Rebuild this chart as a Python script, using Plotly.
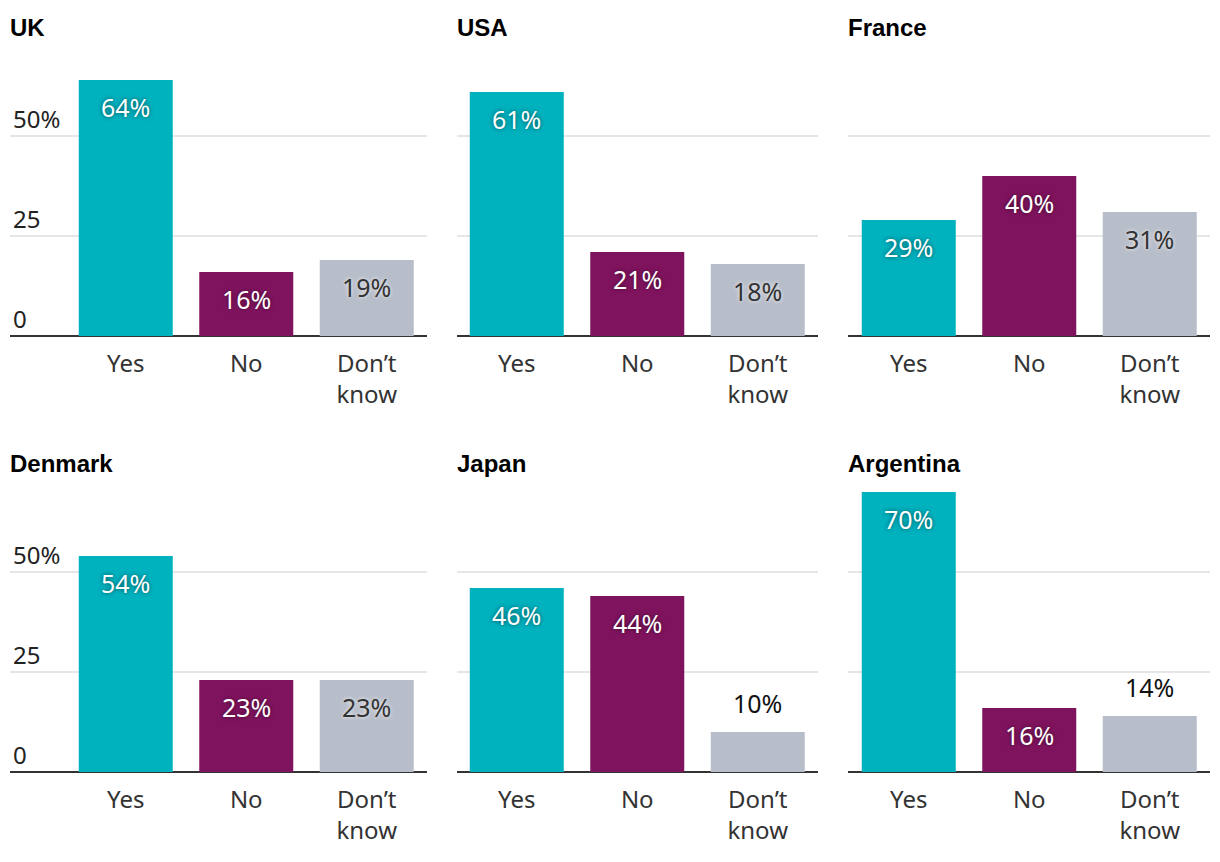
import plotly.graph_objects as go
from plotly.subplots import make_subplots

countries = ["UK", "USA", "France", "Denmark", "Japan", "Argentina"]
categories = ["Yes", "No", "Don’t<br>know"]
yes_vals = [64, 61, 29, 54, 46, 70]
no_vals = [16, 21, 40, 23, 44, 16]
dk_vals = [19, 18, 31, 23, 10, 14]
y_tickvals = [0, 25, 50]
y_ticktext = ["0", "25", "50%"]

colors = ["#00b1be", "#80135e", "#b7bdc9"]
inside_text_colors = ["#ffffff", "#ffffff", "#333333"]
inside_shadows = ["0px 0px 4px rgba(0,0,0,0.55)", "0px 0px 4px rgba(0,0,0,0.55)",
                  "0px 0px 4px rgba(255,255,255,0.9)"]

W, H = 1220, 862
OFF = 8  # page body margin
col_px = [(10 - OFF, 427 - OFF), (457 - OFF, 818 - OFF), (848 - OFF, 1210 - OFF)]
row_px = [(36 - OFF, 336 - OFF), (472 - OFF, 772 - OFF)]
title_y_px = [27 - OFF, 463 - OFF]
spacing_px = 120.5

FONT = "Noto Sans"

fig = make_subplots(rows=2, cols=3)

annotations = []
for i, c in enumerate(countries):
    r, k = divmod(i, 3)
    vals = [yes_vals[i], no_vals[i], dk_vals[i]]
    fig.add_trace(go.Bar(x=categories, y=vals, marker=dict(color=colors, line=dict(width=0)),
                         width=0.78, hoverinfo="skip", showlegend=False), row=r + 1, col=k + 1)
    axn = "" if i == 0 else str(i + 1)
    x0, x1 = col_px[k]
    y0, y1 = row_px[r]
    xr_left = 2.5 - (x1 - x0) / spacing_px
    fig.layout["xaxis" + axn].update(domain=[x0 / W, x1 / W], range=[xr_left, 2.5],
                                     showgrid=False, zeroline=False, showline=False,
                                     ticks="outside", ticklen=6, tickcolor="rgba(0,0,0,0)",
                                     tickfont=dict(family=FONT, size=24, color="#333333"),
                                     fixedrange=True)
    fig.layout["yaxis" + axn].update(domain=[1 - y1 / H, 1 - y0 / H], range=[0, 75],
                                     tickvals=y_tickvals, ticktext=y_ticktext,
                                     showticklabels=(k == 0), ticklabelposition="inside top",
                                     tickfont=dict(family=FONT, size=24, color="#222222"),
                                     showgrid=True, gridcolor="#e6e6e6", gridwidth=2,
                                     zeroline=True, zerolinecolor="#333333", zerolinewidth=2,
                                     showline=False, ticks="", fixedrange=True)
    annotations.append(dict(text="<b>" + c + "</b>", xref="paper", yref="paper",
                            x=x0 / W, y=1 - title_y_px[r] / H, xanchor="left", yanchor="middle",
                            xshift=-2, showarrow=False,
                            font=dict(family="Liberation Sans", size=24, color="#000000")))
    for j, v in enumerate(vals):
        inside = v >= 15
        annotations.append(dict(text=f"{v}%", xref="x" + axn, yref="y" + axn,
                                x=categories[j], y=v, xanchor="center", yanchor="middle",
                                yshift=-27 if inside else 29, showarrow=False,
                                font=dict(family=FONT, size=25,
                                          color=inside_text_colors[j] if inside else "#111111",
                                          shadow=inside_shadows[j] if inside else "none")))

fig.update_layout(width=W, height=H, margin=dict(l=0, r=0, t=0, b=0),
                  paper_bgcolor="white", plot_bgcolor="white",
                  bargap=0.22, annotations=annotations, font=dict(family=FONT))

fig.write_html("out.html")
